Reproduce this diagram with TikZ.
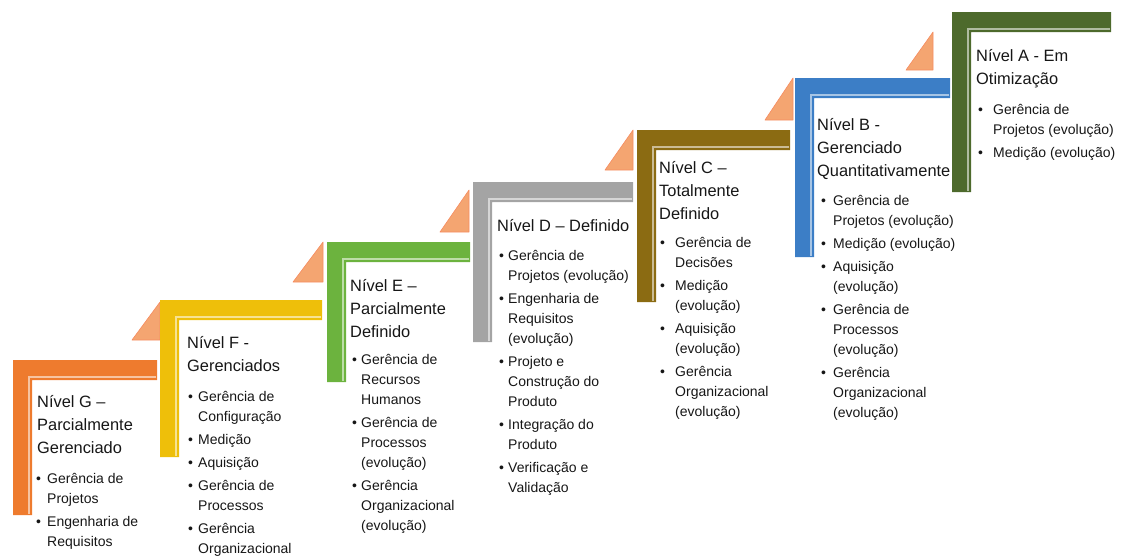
\documentclass[tikz,border=0pt]{standalone}
\usepackage{fontspec}
\setmainfont{Liberation Sans}
\usetikzlibrary{positioning}

\definecolor{corG}{HTML}{EE7B2E}
\definecolor{corF}{HTML}{EEBF0A}
\definecolor{corE}{HTML}{6CB33E}
\definecolor{corD}{HTML}{A4A4A4}
\definecolor{corC}{HTML}{8B6B12}
\definecolor{corB}{HTML}{3C7EC6}
\definecolor{corA}{HTML}{4D6A2C}
\definecolor{seta}{HTML}{F4A571}
\definecolor{texto}{HTML}{161616}

\newcommand{\bul}{\textbullet &}
\newcommand{\lista}[2]{\begin{tabular}[t]{@{}p{#1}@{}l@{}}#2\end{tabular}}
\newcommand{\titulo}[1]{\begin{tabular}[t]{@{}l@{}}#1\end{tabular}}

\tikzset{
  nivel/.style={anchor=base west, inner sep=0pt, text=texto, font=\fontsize{16.4}{23.3}\selectfont},
  itens/.style={anchor=base west, inner sep=0pt, text=texto, font=\fontsize{14}{20}\selectfont},
  triang/.style={fill=seta, draw=seta!85!red, line width=0.6pt, line join=round}
}

\begin{document}
\begin{tikzpicture}[x=1pt,y=-1pt]
\useasboundingbox (0,0) rectangle (1121,558);
% triangulos
\foreach \r/\t/\l/\b in {160/302/132/340, 323/242/293/282, 469/190/440/232, 633/130/605/170, 793/78/765/120, 933/32/906/70}
  \filldraw[triang] (\r,\t) -- (\r,\b) -- (\l,\b) -- cycle;
% degraus
\foreach \x/\y/\r/\b/\c in {13/360/157/515/corG, 160/300/322/457/corF, 327/242/470/382/corE, 473/182/633/342/corD, 637/130/790/302/corC, 795/78/950/257/corB, 952/12/1111/192/corA}{
  \fill[fill=\c] (\x,\y) -- (\r,\y) -- (\r,\y+20) -- (\x+19,\y+20) -- (\x+19,\b) -- (\x,\b) -- cycle;
  \draw[draw=\c!45!white, line width=2pt] (\r-1,\y+17) -- (\x+16,\y+17) -- (\x+16,\b-1);
}
% textos
\node[nivel] (tG) at (37,407) {\titulo{Nível G –\\Parcialmente\\Gerenciado}};
\node[itens] (iG) at (36,483) {\lista{11pt}{\bul Gerência de\\ & Projetos\\[3pt]
  \bul Engenharia de\\ & Requisitos}};

\node[nivel] (tF) at (187,348) {\titulo{Nível F -\\Gerenciados}};
\node[itens] (iF) at (188,401) {\lista{10pt}{\bul Gerência de\\ & Configuração\\[3pt]
  \bul Medição\\[3pt] \bul Aquisição\\[3pt] \bul Gerência de\\ & Processos\\[3pt]
  \bul Gerência\\ & Organizacional}};

\node[nivel] (tE) at (350,291) {\titulo{Nível E –\\Parcialmente\\Definido}};
\node[itens] (iE) at (352,364) {\lista{9pt}{\bul Gerência de\\ & Recursos\\ & Humanos\\[3pt]
  \bul Gerência de\\ & Processos\\ & (evolução)\\[3pt]
  \bul Gerência\\ & Organizacional\\ & (evolução)}};

\node[nivel] (tD) at (497,231) {\titulo{Nível D – Definido}};
\node[itens] (iD) at (499,260) {\lista{9pt}{\bul Gerência de\\ & Projetos (evolução)\\[3pt]
  \bul Engenharia de\\ & Requisitos\\ & (evolução)\\[3pt]
  \bul Projeto e\\ & Construção do\\ & Produto\\[3pt]
  \bul Integração do\\ & Produto\\[3pt]
  \bul Verificação e\\ & Validação}};

\node[nivel] (tC) at (659,173) {\titulo{Nível C –\\Totalmente\\Definido}};
\node[itens] (iC) at (660,247) {\lista{15pt}{\bul Gerência de\\ & Decisões\\[3pt]
  \bul Medição\\ & (evolução)\\[3pt]
  \bul Aquisição\\ & (evolução)\\[3pt]
  \bul Gerência\\ & Organizacional\\ & (evolução)}};

\node[nivel] (tB) at (817,130) {\titulo{Nível B -\\Gerenciado\\Quantitativamente}};
\node[itens] (iB) at (821,205) {\lista{12pt}{\bul Gerência de\\ & Projetos (evolução)\\[3pt]
  \bul Medição (evolução)\\[3pt]
  \bul Aquisição\\ & (evolução)\\[3pt]
  \bul Gerência de\\ & Processos\\ & (evolução)\\[3pt]
  \bul Gerência\\ & Organizacional\\ & (evolução)}};

\node[nivel] (tA) at (976,61) {\titulo{Nível A - Em\\Otimização}};
\node[itens] (iA) at (978,114) {\lista{15pt}{\bul Gerência de\\ & Projetos (evolução)\\[3pt]
  \bul Medição (evolução)}};
\end{tikzpicture}
\end{document}
